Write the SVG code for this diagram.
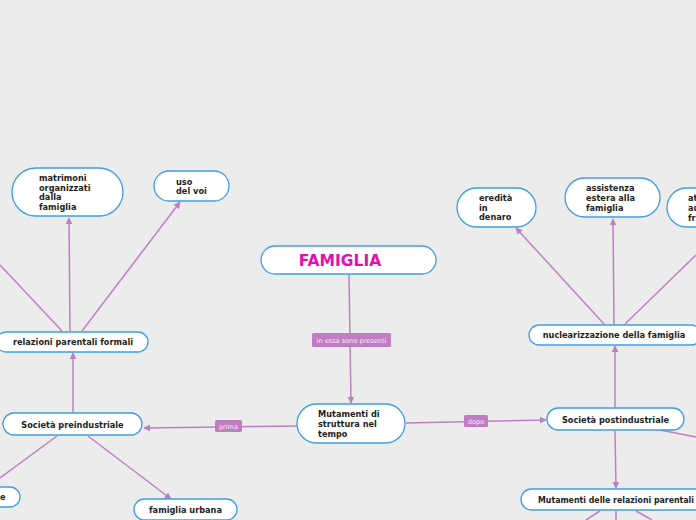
<svg xmlns="http://www.w3.org/2000/svg" width="696" height="520" viewBox="0 0 696 520">
<defs>
<marker id="arr" viewBox="0 0 10 10" refX="9" refY="5" markerWidth="7" markerHeight="7" markerUnits="userSpaceOnUse" orient="auto">
<path d="M0,0 L10,5 L0,10 z" fill="#bf7fc4"/>
</marker>
<style>
.n{fill:#fff;stroke:#3c9fe2;stroke-width:1.3}
.t{font-family:"DejaVu Sans",Verdana,sans-serif;font-weight:bold;font-size:8.2px;fill:#1e1e1e}
.c{fill:none;stroke:#bf7fc4;stroke-width:1.5}
.a{marker-end:url(#arr)}
.lb{fill:#c17dc2}
.lt{font-family:"DejaVu Sans",Verdana,sans-serif;font-size:6.6px;fill:#fbe9fb}
</style>
</defs>
<rect width="696" height="520" fill="#ececec"/>
<g id="connectors">
<path class="c a" d="M349,275 L351,403"/>
<path class="c a" d="M297,426 L144,428"/>
<path class="c a" d="M406,423 L546,420"/>
<path class="c a" d="M73,412 L73,353"/>
<path class="c a" d="M70,331 L69,218"/>
<path class="c a" d="M82,331 L180,202"/>
<path class="c" d="M62,331 L0,265"/>
<path class="c" d="M57,436 L0,478"/>
<path class="c a" d="M88,436 L171,499"/>
<path class="c a" d="M615,407 L615,346"/>
<path class="c a" d="M604,324 L516,228"/>
<path class="c a" d="M614,324 L613,219"/>
<path class="c" d="M625,324 L696,255"/>
<path class="c" d="M660,430 L696,437"/>
<path class="c a" d="M615,431 L616,488"/>
<path class="c" d="M600,511 L586,520"/>
<path class="c" d="M616,511 L616,520"/>
<path class="c" d="M636,511 L652,520"/>
<rect class="lb" x="312" y="333" width="79" height="14" rx="1.5"/>
<text class="lt" x="351.5" y="342.5" text-anchor="middle">in essa sono presenti</text>
<rect class="lb" x="215" y="420" width="27" height="12" rx="1.5"/>
<text class="lt" x="228.5" y="428.5" text-anchor="middle">prima</text>
<rect class="lb" x="464" y="415" width="24" height="12" rx="1.5"/>
<text class="lt" x="476" y="423.5" text-anchor="middle">dopo</text>
</g>
<g id="famiglia">
<rect class="n" x="261" y="246" width="175" height="28" rx="14"/>
<text x="340" y="266" text-anchor="middle" font-family="DejaVu Sans,Verdana,sans-serif" font-weight="bold" font-size="15.5" fill="#e30fb0">FAMIGLIA</text>
</g>
<g id="mutamenti-struttura">
<rect class="n" x="297" y="404" width="108" height="39" rx="19.5"/>
<text class="t" x="318" y="417">Mutamenti di</text>
<text class="t" x="318" y="427">struttura nel</text>
<text class="t" x="318" y="437">tempo</text>
</g>
<g id="preindustriale">
<rect class="n" x="3" y="413" width="139" height="22" rx="11"/>
<text class="t" x="72.5" y="428" text-anchor="middle">Società preindustriale</text>
</g>
<g id="postindustriale">
<rect class="n" x="547" y="408" width="137" height="22" rx="11"/>
<text class="t" x="615.5" y="423" text-anchor="middle">Società postindustriale</text>
</g>
<g id="relazioni-formali">
<rect class="n" x="-4" y="332" width="152" height="20" rx="10"/>
<text class="t" x="73" y="345" text-anchor="middle">relazioni parentali formali</text>
</g>
<g id="matrimoni">
<rect class="n" x="12" y="168" width="111" height="48" rx="24"/>
<text class="t" x="39" y="181">matrimoni</text>
<text class="t" x="39" y="190.5">organizzati</text>
<text class="t" x="39" y="200">dalla</text>
<text class="t" x="39" y="209.5">famiglia</text>
</g>
<g id="uso-voi">
<rect class="n" x="154" y="171" width="75" height="30" rx="15"/>
<text class="t" x="176" y="185">uso</text>
<text class="t" x="176" y="194">del voi</text>
</g>
<g id="left-node">
<rect class="n" x="-100" y="487" width="120" height="20" rx="10"/>
<text class="t" x="0" y="500">e</text>
</g>
<g id="famiglia-urbana">
<rect class="n" x="134" y="499" width="103" height="21" rx="10.5"/>
<text class="t" x="185.5" y="513" text-anchor="middle">famiglia urbana</text>
</g>
<g id="nuclearizzazione">
<rect class="n" x="529" y="325" width="172" height="20" rx="10"/>
<text class="t" x="614" y="338" text-anchor="middle">nuclearizzazione della famiglia</text>
</g>
<g id="eredita">
<rect class="n" x="457" y="188" width="79" height="39" rx="19.5"/>
<text class="t" x="479" y="201">eredità</text>
<text class="t" x="479" y="210.5">in</text>
<text class="t" x="479" y="220">denaro</text>
</g>
<g id="assistenza">
<rect class="n" x="565" y="178" width="95" height="39" rx="19.5"/>
<text class="t" x="586" y="191">assistenza</text>
<text class="t" x="586" y="201">estera alla</text>
<text class="t" x="586" y="211">famiglia</text>
</g>
<g id="right-node">
<rect class="n" x="667" y="188" width="80" height="39" rx="19.5"/>
<text class="t" x="688" y="201">at</text>
<text class="t" x="688" y="211">au</text>
<text class="t" x="688" y="221">fr</text>
</g>
<g id="mutamenti-relazioni">
<rect class="n" x="521" y="489" width="190" height="21" rx="10.5"/>
<text class="t" x="538" y="503" textLength="156" lengthAdjust="spacingAndGlyphs">Mutamenti delle relazioni parentali</text>
</g>
</svg>
